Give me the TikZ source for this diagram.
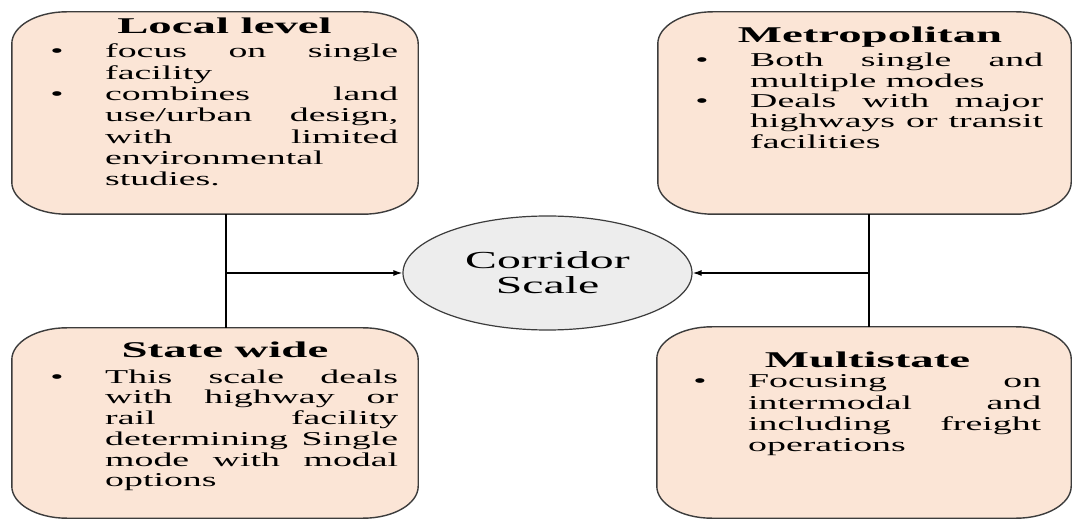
\documentclass[tikz,border=0pt]{standalone}
\usepackage{fontspec}
\setmainfont{Liberation Serif}
\newfontfamily\bodyfont[FakeStretch=1.93]{Liberation Serif}
\newfontfamily\titlefont[FakeStretch=2.08]{Liberation Serif}
\newfontfamily\ellfont[FakeStretch=1.95]{Liberation Serif}
\usetikzlibrary{arrows.meta,shapes.geometric}
\definecolor{peach}{HTML}{FBE5D6}
\definecolor{ellgray}{HTML}{EDEDED}
\definecolor{edgegray}{HTML}{3C3C3C}
\newlength\rxx \setlength\rxx{55pt}
\newlength\ryy \setlength\ryy{32pt}
\newcommand\ellrect[1]{%
  \path[boxline] ([xshift=\rxx]#1.south west) -- ([xshift=-\rxx]#1.south east)
    arc[start angle=-90,end angle=0,x radius=\rxx,y radius=\ryy]
    -- ([yshift=-\ryy]#1.north east)
    arc[start angle=0,end angle=90,x radius=\rxx,y radius=\ryy]
    -- ([xshift=\rxx]#1.north west)
    arc[start angle=90,end angle=180,x radius=\rxx,y radius=\ryy]
    -- ([yshift=\ryy]#1.south west)
    arc[start angle=180,end angle=270,x radius=\rxx,y radius=\ryy]
    -- cycle;}
\newcommand\bul{\leavevmode\llap{\textbullet\hspace{41.5pt}}}
\newcommand\jline[1]{\makebox[293pt][s]{#1}}
\tikzset{
  boxshape/.style={rectangle, draw=none, inner sep=0pt},
  boxline/.style={draw=edgegray, line width=1.4pt, fill=peach},
  titletext/.style={anchor=base, inner sep=0pt, font=\titlefont\fontsize{22.5}{24}\selectfont\bfseries},
  bodytext/.style={anchor=base west, inner sep=0pt},
  conn/.style={draw=black, line width=2pt},
  arr/.style={draw=black, line width=1.3pt, -{Latex[length=9pt,width=6pt]}},
}
\begin{document}
\begin{tikzpicture}[x=1pt,y=1pt]
\useasboundingbox (0,0) rectangle (1074,520);
\fill[white] (0,0) rectangle (1074,520);
% boxes
\node[boxshape, minimum width=406pt, minimum height=202pt] (local) at (215,407) {};
\node[boxshape, minimum width=413pt, minimum height=202pt] (metro) at (864.5,407) {};
\node[boxshape, minimum width=406pt, minimum height=190pt] (state) at (215,97) {};
\node[boxshape, minimum width=414pt, minimum height=191pt] (multi) at (864,97.5) {};
\ellrect{local}
\ellrect{metro}
\ellrect{state}
\ellrect{multi}
% ellipse
\node[ellipse, draw=edgegray, fill=ellgray, line width=1.2pt, minimum width=289pt, minimum height=114pt, inner sep=0pt, align=center, font=\ellfont\fontsize{24.5}{25}\selectfont] (corridor) at (547.5,247) {Corridor\\Scale};
% titles
\node[titletext] (localT) at (224.5,486) {Local level};
\node[titletext] (metroT) at (870,477) {Metropolitan};
\node[titletext] (stateT) at (225,162) {State wide};
\node[titletext] (multiT) at (867.5,153) {Multistate};
% bodies
\node[bodytext] (localB) at (105,462) {\parbox[t]{293pt}{\bodyfont\fontsize{19.6}{21.3}\selectfont
\bul\jline{focus on single}\\
facility\\
\bul\jline{combines land}\\
\jline{use/urban design,}\\
\jline{with limited}\\
environmental\\
studies.}};
\node[bodytext] (metroB) at (750,453) {\parbox[t]{293pt}{\bodyfont\fontsize{19.6}{20.3}\selectfont
\bul\jline{Both single and}\\
multiple modes\\
\bul\jline{Deals with major}\\
\jline{highways or transit}\\
facilities}};
\node[bodytext] (stateB) at (105,137) {\parbox[t]{293pt}{\bodyfont\fontsize{19.6}{20.8}\selectfont
\bul\jline{This scale deals}\\
\jline{with highway or}\\
\jline{rail facility}\\
\jline{determining Single}\\
\jline{mode with modal}\\
options}};
\node[bodytext] (multiB) at (748,132) {\parbox[t]{293pt}{\bodyfont\fontsize{19.6}{21.3}\selectfont
\bul\jline{Focusing on}\\
\jline{intermodal and}\\
\jline{including freight}\\
operations}};
% connectors
\coordinate (jl) at (226,247);
\coordinate (jr) at (869,247);
\draw[conn] (local.south -| jl) -- (state.north -| jl);
\draw[arr] (jl) -- (corridor.west);
\draw[conn] (metro.south -| jr) -- (multi.north -| jr);
\draw[arr] (jr) -- (corridor.east);
\end{tikzpicture}
\end{document}
